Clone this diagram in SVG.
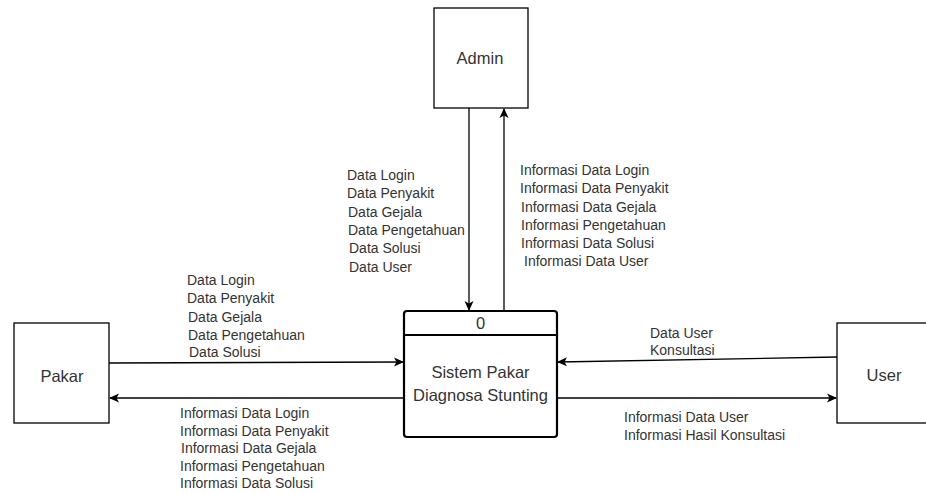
<svg xmlns="http://www.w3.org/2000/svg" width="926" height="494" viewBox="0 0 926 494">
  <defs>
    <marker id="arrow" viewBox="0 0 10 10" refX="9" refY="5" markerWidth="10" markerHeight="10" markerUnits="userSpaceOnUse" orient="auto">
      <path d="M0,0.5 L10,5 L0,9.5 L2.5,5 Z" fill="#000"/>
    </marker>
  </defs>
  <style>
    .entity { fill: #fff; stroke: #000; stroke-width: 1.3; }
    .process { fill: #fff; stroke: #000; stroke-width: 2.2; }
    .flow { fill: none; stroke: #000; stroke-width: 1.3; marker-end: url(#arrow); }
    .name { font-family: "Liberation Sans", Arial, sans-serif; font-size: 16.5px; fill: #333; text-anchor: middle; }
    .lbl { font-family: "Liberation Sans", Arial, sans-serif; font-size: 14px; fill: #333; }
  </style>
  <rect width="926" height="494" fill="#fff"/>

  <g id="admin">
    <rect class="entity" x="434" y="8" width="94" height="100"/>
    <text class="name" x="480" y="64">Admin</text>
  </g>

  <g id="pakar">
    <rect class="entity" x="14" y="323" width="95" height="100"/>
    <text class="name" x="62" y="382">Pakar</text>
  </g>

  <g id="user">
    <rect class="entity" x="837" y="323" width="95" height="100"/>
    <text class="name" x="884" y="381">User</text>
  </g>

  <g id="process-0">
    <rect class="process" x="404" y="311" width="153" height="126" rx="3"/>
    <line x1="404" y1="335" x2="557" y2="335" stroke="#000" stroke-width="2.2"/>
    <text class="name" x="480.5" y="329">0</text>
    <text class="name" x="480.5" y="378">Sistem Pakar</text>
    <text class="name" x="480.5" y="401">Diagnosa Stunting</text>
  </g>

  <g id="connectors">
    <line class="flow" x1="469" y1="108" x2="469" y2="310"/>
    <line class="flow" x1="504" y1="311" x2="504" y2="109"/>
    <line class="flow" x1="109" y1="363" x2="403" y2="362"/>
    <line class="flow" x1="404" y1="398" x2="110" y2="398"/>
    <line class="flow" x1="837" y1="357" x2="558" y2="362"/>
    <line class="flow" x1="557" y1="398" x2="836" y2="398"/>
  </g>

  <g id="labels">
    <text class="lbl" x="347" y="180">Data Login</text>
    <text class="lbl" x="347" y="198">Data Penyakit</text>
    <text class="lbl" x="348" y="217">Data Gejala</text>
    <text class="lbl" x="348" y="235">Data Pengetahuan</text>
    <text class="lbl" x="349" y="253">Data Solusi</text>
    <text class="lbl" x="349" y="272">Data User</text>

    <text class="lbl" x="520" y="175">Informasi Data Login</text>
    <text class="lbl" x="520" y="193">Informasi Data Penyakit</text>
    <text class="lbl" x="521" y="212">Informasi Data Gejala</text>
    <text class="lbl" x="521" y="230">Informasi Pengetahuan</text>
    <text class="lbl" x="521" y="248">Informasi Data Solusi</text>
    <text class="lbl" x="524" y="266">Informasi Data User</text>

    <text class="lbl" x="187" y="285">Data Login</text>
    <text class="lbl" x="187" y="303">Data Penyakit</text>
    <text class="lbl" x="188" y="322">Data Gejala</text>
    <text class="lbl" x="188" y="340">Data Pengetahuan</text>
    <text class="lbl" x="189" y="357">Data Solusi</text>

    <text class="lbl" x="180" y="418">Informasi Data Login</text>
    <text class="lbl" x="180" y="436">Informasi Data Penyakit</text>
    <text class="lbl" x="181" y="453">Informasi Data Gejala</text>
    <text class="lbl" x="180" y="471">Informasi Pengetahuan</text>
    <text class="lbl" x="180" y="488">Informasi Data Solusi</text>

    <text class="lbl" x="650" y="338">Data User</text>
    <text class="lbl" x="650" y="355">Konsultasi</text>

    <text class="lbl" x="624" y="422">Informasi Data User</text>
    <text class="lbl" x="624" y="440">Informasi Hasil Konsultasi</text>
  </g>
</svg>
